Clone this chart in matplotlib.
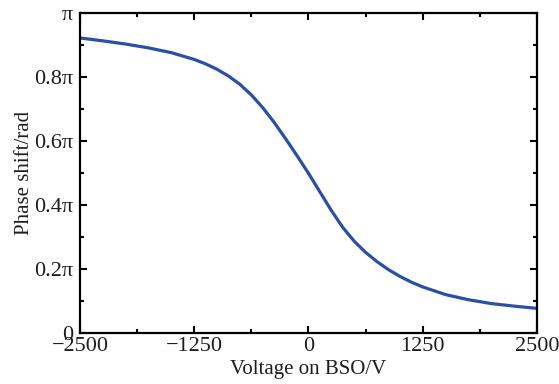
import numpy as np
import matplotlib
matplotlib.use('Agg')
import matplotlib.pyplot as plt
from matplotlib.ticker import MultipleLocator

# ── DATA ──────────────────────────────────────────────────────────────────────
# phase shift (in units of pi) vs voltage applied on the BSO crystal
voltage = [-2500, -2250, -2000, -1750, -1500, -1250, -1125, -1000, -875, -750,
           -625, -500, -375, -250, -125, 0, 125, 250, 375, 500, 625, 750, 875,
           1000, 1125, 1250, 1500, 1750, 2000, 2250, 2500]
phase_pi = [0.922, 0.913, 0.903, 0.891, 0.876, 0.855, 0.841, 0.824, 0.803, 0.777,
            0.744, 0.704, 0.658, 0.607, 0.554, 0.499, 0.441, 0.383, 0.330, 0.287,
            0.252, 0.223, 0.198, 0.177, 0.159, 0.144, 0.120, 0.104, 0.092, 0.084,
            0.077]

x_ticks = [-2500, -1250, 0, 1250, 2500]
y_ticks = [0, 0.2, 0.4, 0.6, 0.8, 1.0]
y_labels = ["0", "0.2π", "0.4π", "0.6π", "0.8π", "π"]

# ── PLOT ──────────────────────────────────────────────────────────────────────
plt.rcParams['font.family'] = ['Liberation Serif', 'DejaVu Serif']
txt = '#1e1e1e'

fig = plt.figure(figsize=(5.59, 3.84), dpi=100)
ax = fig.add_axes([0.1431, 0.1328, 0.8175, 0.8333])

ax.plot(voltage, phase_pi, color='#2a4fa8', lw=2.3,
        solid_capstyle='butt', solid_joinstyle='round')

ax.set_xlim(-2500, 2500)
ax.set_ylim(0, 1)
ax.set_xticks(x_ticks)
ax.set_xticklabels([str(t).replace('-', '\u2212') for t in x_ticks])
ax.set_yticks(y_ticks)
ax.set_yticklabels(y_labels)
ax.xaxis.set_minor_locator(MultipleLocator(625))
ax.yaxis.set_minor_locator(MultipleLocator(0.1))

ax.tick_params(which='both', direction='in', top=True, right=True,
               labelsize=16, width=1.5, labelcolor=txt)
ax.tick_params(axis='x', pad=3)
ax.tick_params(axis='y', pad=5)
ax.tick_params(which='major', length=5)
ax.tick_params(which='minor', length=3)
for sp in ax.spines.values():
    sp.set_linewidth(1.6)

ax.set_xlabel("Voltage on BSO/V", fontsize=15, labelpad=3, color=txt)
ax.set_ylabel("Phase shift/rad", fontsize=15, labelpad=0, color=txt)

plt.savefig("out.png", dpi=100)
plt.close()
